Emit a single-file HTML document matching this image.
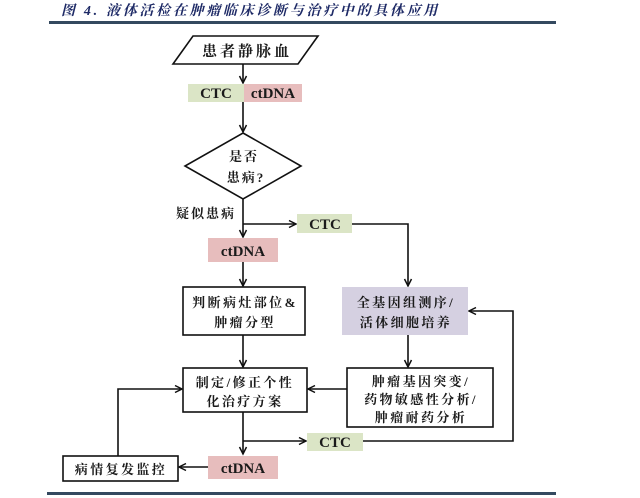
<!DOCTYPE html>
<html><head><meta charset="utf-8"><style>
html,body{margin:0;padding:0;background:#fff;}
svg{display:block;}
.cn{font-family:"Liberation Serif","Noto Serif CJK SC",serif;font-weight:bold;fill:#1a1a1a;}
.en{font-family:"Liberation Serif",serif;font-weight:bold;fill:#1a1a1a;}
</style></head><body>
<svg width="640" height="498" viewBox="0 0 640 498" xmlns="http://www.w3.org/2000/svg">
<defs>
<marker id="a" markerWidth="10" markerHeight="10" refX="8" refY="5" orient="auto" markerUnits="userSpaceOnUse">
<path d="M1,1.5 L8,5 L1,8.5" fill="none" stroke="#111" stroke-width="1.5"/>
</marker>
</defs>
<rect width="640" height="498" fill="#fff"/>
<!-- title -->
<text x="61" y="15" class="cn" style="fill:#1e2a66;font-size:14px;letter-spacing:2.7px;font-style:italic">图 4. 液体活检在肿瘤临床诊断与治疗中的具体应用</text>
<rect x="49" y="21" width="507" height="3" fill="#34495f"/>
<rect x="47" y="492" width="509" height="3" fill="#34495f"/>

<g stroke="#111" stroke-width="1.6" fill="none">
<!-- parallelogram -->
<polygon points="193,36 318,36 298,64 173,64" fill="#fff"/>
<line x1="243" y1="64" x2="243" y2="83" marker-end="url(#a)"/>
<line x1="243" y1="102" x2="243" y2="132" marker-end="url(#a)"/>
<!-- diamond -->
<polygon points="243,133 301,166 243,199 185,166" fill="#fff"/>
<line x1="243" y1="199" x2="243" y2="237" marker-end="url(#a)"/>
<line x1="243" y1="224" x2="296" y2="224" marker-end="url(#a)"/>
<polyline points="352,224 408,224 408,286" marker-end="url(#a)"/>
<line x1="243" y1="262" x2="243" y2="286" marker-end="url(#a)"/>
<rect x="183" y="287" width="122" height="48" fill="#fff"/>
<line x1="243" y1="335" x2="243" y2="367" marker-end="url(#a)"/>
<line x1="408" y1="335" x2="408" y2="367" marker-end="url(#a)"/>
<rect x="347" y="368" width="146" height="59" fill="#fff"/>
<rect x="183" y="368" width="124" height="44" fill="#fff"/>
<line x1="347" y1="389" x2="308" y2="389" marker-end="url(#a)"/>
<polyline points="118,456 118,389 182,389" marker-end="url(#a)"/>
<line x1="243" y1="412" x2="243" y2="454" marker-end="url(#a)"/>
<line x1="243" y1="441" x2="306" y2="441" marker-end="url(#a)"/>
<polyline points="363,441 513,441 513,311 469,311" marker-end="url(#a)"/>
<line x1="208" y1="467" x2="179" y2="467" marker-end="url(#a)"/>
<rect x="63" y="456" width="115" height="25" fill="#fff"/>
</g>

<!-- colored boxes -->
<rect x="188" y="84" width="56" height="18" fill="#dbe5c6"/>
<rect x="244" y="84" width="58" height="18" fill="#e7bdbd"/>
<rect x="297" y="214" width="55" height="19" fill="#dbe5c6"/>
<rect x="208" y="238" width="70" height="24" fill="#e7bdbd"/>
<rect x="342" y="287" width="126" height="48" fill="#d5d0e1"/>
<rect x="307" y="433" width="56" height="18" fill="#dbe5c6"/>
<rect x="208" y="456" width="70" height="23" fill="#e7bdbd"/>

<!-- text -->
<text x="247" y="56" class="cn" text-anchor="middle" style="font-size:15px;letter-spacing:3px">患者静脉血</text>
<text x="216" y="98" class="en" text-anchor="middle" style="font-size:15px">CTC</text>
<text x="273" y="98" class="en" text-anchor="middle" style="font-size:15px">ctDNA</text>
<text x="244" y="161" class="cn" text-anchor="middle" style="font-size:13px;letter-spacing:2px">是否</text>
<text x="246" y="182" class="cn" text-anchor="middle" style="font-size:13px;letter-spacing:2px">患病?</text>
<text x="176" y="218" class="cn" style="font-size:13px;letter-spacing:2px">疑似患病</text>
<text x="325" y="229" class="en" text-anchor="middle" style="font-size:15px">CTC</text>
<text x="243" y="256" class="en" text-anchor="middle" style="font-size:15px">ctDNA</text>
<text x="245" y="307" class="cn" text-anchor="middle" style="font-size:13px;letter-spacing:2.4px">判断病灶部位&amp;</text>
<text x="245" y="327" class="cn" text-anchor="middle" style="font-size:13px;letter-spacing:2.4px">肿瘤分型</text>
<text x="406" y="307" class="cn" text-anchor="middle" style="font-size:13px;letter-spacing:2.4px">全基因组测序/</text>
<text x="406" y="327" class="cn" text-anchor="middle" style="font-size:13px;letter-spacing:2.4px">活体细胞培养</text>
<text x="245" y="387" class="cn" text-anchor="middle" style="font-size:13px;letter-spacing:2.4px">制定/修正个性</text>
<text x="245" y="406" class="cn" text-anchor="middle" style="font-size:13px;letter-spacing:2.4px">化治疗方案</text>
<text x="421" y="386" class="cn" text-anchor="middle" style="font-size:13px;letter-spacing:2.4px">肿瘤基因突变/</text>
<text x="421" y="404" class="cn" text-anchor="middle" style="font-size:13px;letter-spacing:2.4px">药物敏感性分析/</text>
<text x="421" y="422" class="cn" text-anchor="middle" style="font-size:13px;letter-spacing:2.4px">肿瘤耐药分析</text>
<text x="335" y="447" class="en" text-anchor="middle" style="font-size:15px">CTC</text>
<text x="243" y="473" class="en" text-anchor="middle" style="font-size:15px">ctDNA</text>
<text x="121" y="474" class="cn" text-anchor="middle" style="font-size:13px;letter-spacing:2.4px">病情复发监控</text>
</svg>
</body></html>
